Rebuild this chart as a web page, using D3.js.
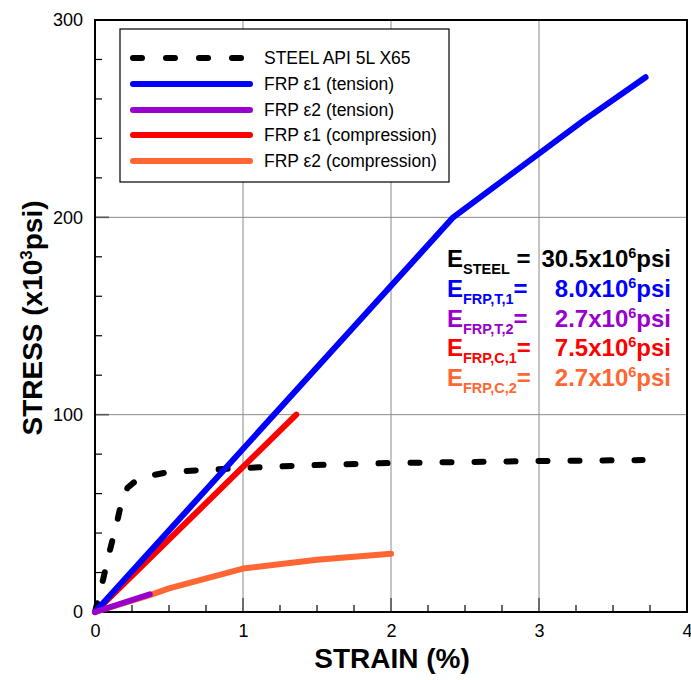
<!DOCTYPE html>
<html><head><meta charset="utf-8">
<script src="https://cdn.jsdelivr.net/npm/d3@7"></script>
<style>body{margin:0;background:#fff}svg{display:block;font-family:"Liberation Sans",Arial,Helvetica,sans-serif}</style>
</head><body><svg id="c" width="691" height="680"></svg>
<script>
// ---- data ----
const steelStrain = [0, 0.05, 0.1, 0.15, 0.18, 0.22, 0.3, 0.5, 1.0, 1.5, 2.0, 2.5, 3.0, 3.7];
const steelStress = [0, 15, 31, 46, 56, 63, 68, 71, 73, 74.5, 75.5, 76, 76.5, 77];
const frpT1Strain = [0, 2.42, 3.3, 3.72];
const frpT1Stress = [0, 200, 249, 271];
const frpT2Strain = [0, 0.37];
const frpT2Stress = [0, 9];
const frpC1Strain = [0, 1.36];
const frpC1Stress = [0, 100];
const frpC2Strain = [0, 0.37, 0.5, 1.0, 1.5, 2.0];
const frpC2Stress = [0, 8.5, 12, 22, 26.5, 29.5];
const seriesNames = ["STEEL API 5L X65", "FRP \u03B51 (tension)", "FRP \u03B52 (tension)", "FRP \u03B51 (compression)", "FRP \u03B52 (compression)"];
const seriesColors = ["#000000", "#0000ff", "#9900cc", "#ff0000", "#ff6633"];
const xTickValues = [0, 1, 2, 3, 4];
const yTickValues = [0, 100, 200, 300];
const modSub = ["STEEL", "FRP,T,1", "FRP,T,2", "FRP,C,1", "FRP,C,2"];
const modVal = ["30.5", "8.0", "2.7", "7.5", "2.7"];

// ---- layout ----
const svg = d3.select("#c");
const L = 95, T = 20, W = 592, H = 592;
const x = d3.scaleLinear().domain([0, 4]).range([L, L + W]);
const y = d3.scaleLinear().domain([0, 300]).range([T + H, T]);

// grid
const g = svg.append("g");
[1, 2, 3].forEach(v => g.append("line").attr("x1", x(v)).attr("x2", x(v)).attr("y1", T).attr("y2", T + H).attr("stroke", "#8a8a8a").attr("stroke-width", 1));
[100, 200].forEach(v => g.append("line").attr("x1", L).attr("x2", L + W).attr("y1", y(v)).attr("y2", y(v)).attr("stroke", "#8a8a8a").attr("stroke-width", 1));

// minor ticks (inward)
const xMinor = d3.range(0.25, 4, 0.25).filter(v => Math.abs(v - Math.round(v)) > 1e-6);
xMinor.forEach(v => g.append("line").attr("x1", x(v)).attr("x2", x(v)).attr("y1", T + H).attr("y2", T + H - 7).attr("stroke", "#000").attr("stroke-width", 1.2));
[1, 2, 3].forEach(v => g.append("line").attr("x1", x(v)).attr("x2", x(v)).attr("y1", T + H).attr("y2", T + H - 14).attr("stroke", "#555").attr("stroke-width", 1.6));
const yMinor = d3.range(20, 300, 20).filter(v => v % 100 !== 0);
yMinor.forEach(v => g.append("line").attr("x1", L).attr("x2", L + 7).attr("y1", y(v)).attr("y2", y(v)).attr("stroke", "#000").attr("stroke-width", 1.2));
[100, 200].forEach(v => g.append("line").attr("x1", L).attr("x2", L + 14).attr("y1", y(v)).attr("y2", y(v)).attr("stroke", "#555").attr("stroke-width", 1.6));

// frame
svg.append("rect").attr("x", L).attr("y", T).attr("width", W).attr("height", H).attr("fill", "none").attr("stroke", "#000").attr("stroke-width", 2);

// axes labels via d3 axes (no domain/ticks lines)
const xAxis = svg.append("g").attr("transform", `translate(0,${T + H})`)
  .call(d3.axisBottom(x).tickValues(xTickValues).tickSize(0).tickPadding(12).tickFormat(d3.format("d")));
xAxis.select(".domain").remove();
xAxis.selectAll("text").attr("font-size", 18).attr("font-family", "Liberation Sans, Arial, sans-serif").attr("fill", "#000");
const yAxis = svg.append("g").attr("transform", `translate(${L},0)`)
  .call(d3.axisLeft(y).tickValues(yTickValues).tickSize(0).tickPadding(12).tickFormat(d3.format("d")));
yAxis.select(".domain").remove();
yAxis.selectAll("text").attr("font-size", 18).attr("font-family", "Liberation Sans, Arial, sans-serif").attr("fill", "#000");

// series lines
const line = d3.line().x(d => x(d[0])).y(d => y(d[1]));
function pts(a, b) { return a.map((v, i) => [v, b[i]]); }
const plotG = svg.append("g").attr("fill", "none").attr("stroke-linecap", "round").attr("stroke-linejoin", "round");
plotG.append("path").attr("d", line(pts(steelStrain, steelStress))).attr("stroke", seriesColors[0]).attr("stroke-width", 6).attr("stroke-dasharray", "9,23");
plotG.append("path").attr("d", line(pts(frpC2Strain, frpC2Stress))).attr("stroke", seriesColors[4]).attr("stroke-width", 6);
plotG.append("path").attr("d", line(pts(frpC1Strain, frpC1Stress))).attr("stroke", seriesColors[3]).attr("stroke-width", 6);
plotG.append("path").attr("d", line(pts(frpT1Strain, frpT1Stress))).attr("stroke", seriesColors[1]).attr("stroke-width", 6);
plotG.append("path").attr("d", line(pts(frpT2Strain, frpT2Stress))).attr("stroke", seriesColors[2]).attr("stroke-width", 6);

// legend
const lg = svg.append("g");
lg.append("rect").attr("x", 120).attr("y", 29).attr("width", 329).attr("height", 153).attr("fill", "#fff").attr("stroke", "#000").attr("stroke-width", 1.2);
const rowY = [58, 84, 110, 135, 161];
seriesNames.forEach((n, i) => {
  const ln = lg.append("line").attr("x1", 133).attr("x2", 250).attr("y1", rowY[i]).attr("y2", rowY[i])
    .attr("stroke", seriesColors[i]).attr("stroke-width", 6).attr("stroke-linecap", "round");
  if (i === 0) ln.attr("stroke-dasharray", "9,24");
  lg.append("text").attr("x", 264).attr("y", rowY[i]).attr("dy", "0.35em").attr("font-size", 17.5).attr("fill", "#000").text(n);
});

// modulus annotations
const annY = [267, 297, 327, 356, 386];
modSub.forEach((s, i) => {
  const t = svg.append("text").attr("x", 447).attr("y", annY[i]).attr("font-size", 24).attr("font-weight", "bold").attr("fill", seriesColors[i]);
  t.append("tspan").text("E");
  t.append("tspan").attr("font-size", 14.5).attr("dy", 7).text(s);
  t.append("tspan").attr("dy", -7).text(i === 0 ? " =" : "=");
  const v = svg.append("text").attr("x", 671).attr("y", annY[i]).attr("text-anchor", "end").attr("font-size", 24).attr("font-weight", "bold").attr("fill", seriesColors[i]);
  v.append("tspan").text(modVal[i] + "x10");
  v.append("tspan").attr("font-size", 14.5).attr("dy", -9).text("6");
  v.append("tspan").attr("dy", 9).text("psi");
});

// axis titles
svg.append("text").attr("x", 392).attr("y", 668).attr("text-anchor", "middle").attr("font-size", 28).attr("font-weight", "bold").text("STRAIN (%)");
const yt = svg.append("text").attr("transform", "translate(42,318) rotate(-90)").attr("text-anchor", "middle").attr("font-size", 28).attr("font-weight", "bold");
yt.append("tspan").text("STRESS (x10");
yt.append("tspan").attr("font-size", 17).attr("dy", -10).text("3");
yt.append("tspan").attr("dy", 10).text("psi)");
</script></body></html>
